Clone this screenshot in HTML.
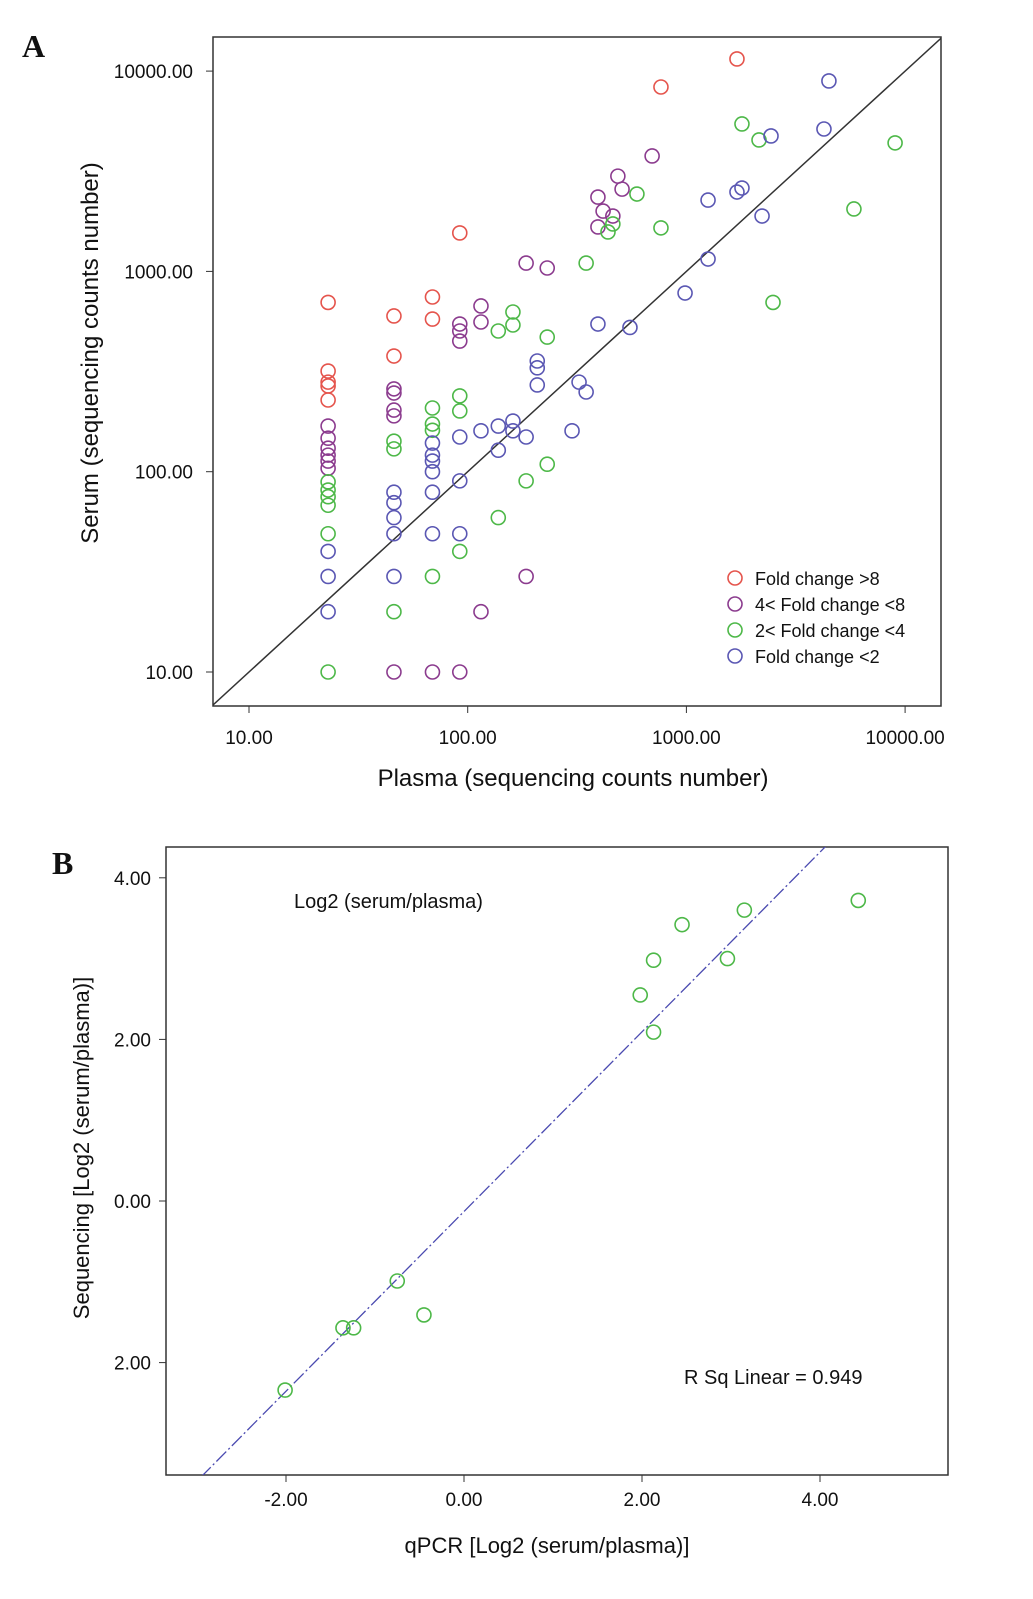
<!DOCTYPE html>
<html><head><meta charset="utf-8"><style>
body{margin:0;background:#fff;}
svg text{font-family:"Liberation Sans",sans-serif;fill:#111;}
</style></head><body>
<svg id="chart" width="1033" height="1594" viewBox="0 0 1033 1594" xmlns="http://www.w3.org/2000/svg">
<text x="22" y="57" style="font-family:'Liberation Serif',serif;font-weight:bold;font-size:32px">A</text>
<text x="52" y="874" style="font-family:'Liberation Serif',serif;font-weight:bold;font-size:32px">B</text>
<g id="pa"></g>
<g id="pb"></g>
</svg>
<script>
// Panel A data
const redX=[23,23,23,23,23,46,46,69,69,92,765,1703];
const redY=[700,318,280,268,228,599,378,745,578,1556,8330,11500];
const purpleX=[23,23,23,23,23,23,46,46,46,46,46,69,92,92,92,92,115,115,115,185,231,185,394,416,461,486,508,394,697];
const purpleY=[169,147,131,121,113,104,259,247,203,190,10,10,546,504,449,10,672,559,20,1100,1040,30,2350,2000,1890,2990,2575,1667,3770];
const purpleFix=[92,20];
const greenX=[23,23,23,23,23,23,46,46,46,69,69,69,69,92,92,92,138,161,161,231,138,185,231,348,438,461,594,765,1795,2148,2489,5835,9000];
const greenY=[89,81,75,68,49,10,142,130,20,208,173,161,30,239,201,40,504,627,540,470,59,90,109,1100,1574,1725,2434,1649,5445,4530,700,2050,4380];
const blueX=[23,23,23,46,46,46,46,46,69,69,69,69,69,69,92,92,92,115,138,138,161,161,185,208,208,208,300,323,348,394,552,986,1256,1256,1703,1795,2218,2437,4256,4484];
const blueY=[40,30,20,79,70,59,49,30,139,121,113,100,79,49,149,90,49,160,169,128,179,160,149,357,330,271,160,280,250,546,525,780,1153,2270,2490,2608,1890,4745,5140,8930];
const aTicks=[10,100,1000,10000];
const aTickLabels=["10.00","100.00","1000.00","10000.00"];
const legendLabels=["Fold change >8","4< Fold change <8","2< Fold change <4","Fold change <2"];
// Panel B data
const qpcr=[-2.01,-1.36,-1.24,-0.75,-0.45,1.98,2.13,2.13,2.45,2.96,3.15,4.43];
const seq=[-2.34,-1.57,-1.57,-0.99,-1.41,2.55,2.98,2.09,3.42,3.0,3.6,3.72];
const bXTicks=[-2,0,2,4];
const bXLabels=["-2.00","0.00","2.00","4.00"];
const bYTicks=[4,2,0,-2];
const bYLabels=["4.00","2.00","0.00","2.00"];
const fitSlope=1.112, fitIntercept=-0.13;

const NS="http://www.w3.org/2000/svg";
function mk(parent,tag,attrs,text){const e=document.createElementNS(NS,tag);for(const k in attrs)e.setAttribute(k,attrs[k]);if(text!==undefined)e.textContent=text;parent.appendChild(e);return e;}

// Panel A
const pa=document.getElementById('pa');
const ax=v=>249+(Math.log10(v)-1)*218.7;
const ay=v=>672-(Math.log10(v)-1)*200.3;
const fA=mk(pa,'rect',{x:213,y:37,width:728,height:669,fill:'none',stroke:'#333','stroke-width':1.5});


const clipA=mk(pa,'clipPath',{id:'ca'});mk(clipA,'rect',{x:213,y:37,width:728,height:669});
const diag=mk(pa,'line',{x1:ax(5),y1:ay(5),x2:ax(50000),y2:ay(50000),stroke:'#333','stroke-width':1.5,'clip-path':'url(#ca)'});


aTicks.forEach((t,i)=>{
  mk(pa,'line',{x1:ax(t),y1:706,x2:ax(t),y2:713,stroke:'#333'});
  const xl=mk(pa,'text',{x:ax(t),y:744,'text-anchor':'middle','font-size':19},aTickLabels[i]);
  
  
  mk(pa,'line',{x1:206,y1:ay(t),x2:213,y2:ay(t),stroke:'#333'});
  const yl=mk(pa,'text',{x:193,y:ay(t)+7,'text-anchor':'end','font-size':19},aTickLabels[i]);
  
  
});
const xt=mk(pa,'text',{x:573,y:786,'text-anchor':'middle','font-size':24},'Plasma (sequencing counts number)');


const yt=mk(pa,'text',{x:98,y:353,'text-anchor':'middle','font-size':24,transform:'rotate(-90 98 353)'},'Serum  (sequencing counts number)');


const series=[[redX,redY,'#e5544c'],[purpleX,purpleY,'#8b3b8e'],[greenX,greenY,'#4db848'],[blueX,blueY,'#5a57b3']];
series.forEach((s,si)=>{
  s[0].forEach((xv,i)=>{
    const c=mk(pa,'circle',{cx:ax(xv),cy:ay(s[1][i]),r:7,fill:'none',stroke:s[2],'stroke-width':1.6});
    
    
  });
  const ly=578+si*26;
  const lc=mk(pa,'circle',{cx:735,cy:ly,r:7,fill:'none',stroke:s[2],'stroke-width':1.6});
  
  
  const lt=mk(pa,'text',{x:755,y:ly+7,'font-size':18},legendLabels[si]);
  
  
});

// Panel B
const pb=document.getElementById('pb');
const bx=v=>464+v*89;
const by=v=>1201-v*80.8;
const fB=mk(pb,'rect',{x:166,y:847,width:782,height:628,fill:'none',stroke:'#333','stroke-width':1.5});


const clipB=mk(pb,'clipPath',{id:'cb'});mk(clipB,'rect',{x:166,y:847,width:782,height:628});
const fit=mk(pb,'line',{x1:bx(-4),y1:by(fitSlope*-4+fitIntercept),x2:bx(6),y2:by(fitSlope*6+fitIntercept),stroke:'#4a4ab0','stroke-width':1.3,'stroke-dasharray':'14 3 2 3','clip-path':'url(#cb)'});


bXTicks.forEach((t,i)=>{
  mk(pb,'line',{x1:bx(t),y1:1475,x2:bx(t),y2:1482,stroke:'#333'});
  const l=mk(pb,'text',{x:bx(t),y:1506,'text-anchor':'middle','font-size':19},bXLabels[i]);
  
  
});
bYTicks.forEach((t,i)=>{
  mk(pb,'line',{x1:159,y1:by(t),x2:166,y2:by(t),stroke:'#333'});
  const l=mk(pb,'text',{x:151,y:by(t)+7,'text-anchor':'end','font-size':19},bYLabels[i]);
  
  
});
qpcr.forEach((xv,i)=>{
  const c=mk(pb,'circle',{cx:bx(xv),cy:by(seq[i]),r:7,fill:'none',stroke:'#4db848','stroke-width':1.6});
  
  
});
const t1=mk(pb,'text',{x:294,y:908,'font-size':20},'Log2 (serum/plasma)');


const t2=mk(pb,'text',{x:684,y:1384,'font-size':20},'R Sq Linear = 0.949');


const bxt=mk(pb,'text',{x:547,y:1553,'text-anchor':'middle','font-size':22},'qPCR [Log2 (serum/plasma)]');


const byt=mk(pb,'text',{x:89,y:1148,'text-anchor':'middle','font-size':22,transform:'rotate(-90 89 1148)'},'Sequencing [Log2 (serum/plasma)]');


</script>
</body></html>
